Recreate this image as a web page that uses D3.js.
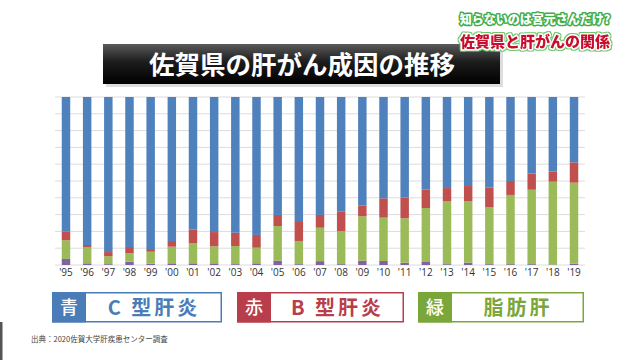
<!DOCTYPE html>
<html><head><meta charset="utf-8">
<script src="https://cdn.jsdelivr.net/npm/d3@7"></script>
<style>html,body{margin:0;padding:0;background:#fff;}svg{display:block;}</style>
</head><body>
<script>
const years = ["'95","'96","'97","'98","'99","'00","'01","'02","'03","'04","'05","'06","'07","'08","'09","'10","'11","'12","'13","'14","'15","'16","'17","'18","'19"];
const other  = [3.6,1.0,0.5,2.0,0.8,1.0,1.0,1.0,0.5,1.0,2.6,0.5,2.3,0.5,2.6,2.4,1.4,1.8,0.5,1.4,0.5,0.5,0.5,0.3,0.8];
const fatty  = [11.1,9.5,4.7,5.0,7.1,9.9,12.1,10.1,10.8,9.3,20.6,13.8,19.9,19.7,26.4,25.8,26.4,32.1,37.6,36.7,33.8,41.2,44.3,49.3,48.2];
const hepB   = [5.1,1.4,2.5,3.7,1.6,3.4,8.1,8.5,7.9,7.6,6.6,11.3,7.6,11.5,6.3,11.5,12.3,11.1,7.7,8.9,11.9,8.3,9.6,6.0,12.1];
const hepC   = years.map((y,i)=>+(100-other[i]-fatty[i]-hepB[i]).toFixed(1));
const yTicks = [0,10,20,30,40,50,60,70,80,90,100];
const title = "佐賀県の肝がん成因の推移";
const caption1 = "知らないのは宮元さんだけ?";
const caption2 = "佐賀県と肝がんの関係";
const legendItems = [
  {key:"青", label:"C 型肝炎"},
  {key:"赤", label:"B 型肝炎"},
  {key:"緑", label:"脂肪肝"}
];
const source = "出典：2020佐賀大学肝疾患センター調査";

const W=640,H=360;
const svg=d3.select("body").append("svg").attr("width",W).attr("height",H);
const font = "'Noto Sans CJK JP','Noto Sans',sans-serif";

const defs=svg.append("defs");
const g1=defs.append("linearGradient").attr("id","tg").attr("x1",0).attr("y1",0).attr("x2",0).attr("y2",1);
g1.append("stop").attr("offset","0%").attr("stop-color","#5a5a5a");
g1.append("stop").attr("offset","45%").attr("stop-color","#1c1c1c");
g1.append("stop").attr("offset","100%").attr("stop-color","#000");
const glow=defs.append("filter").attr("id","glow").attr("x","-10%").attr("y","-30%").attr("width","120%").attr("height","160%");
glow.append("feMorphology").attr("in","SourceAlpha").attr("operator","dilate").attr("radius",1.2).attr("result","d");
glow.append("feGaussianBlur").attr("in","d").attr("stdDeviation",0.6).attr("result","db");
glow.append("feFlood").attr("flood-color","#6cc86a");
glow.append("feComposite").attr("in2","db").attr("operator","in").attr("result","g");
const m=glow.append("feMerge");m.append("feMergeNode").attr("in","g");m.append("feMergeNode").attr("in","SourceGraphic");

// scales
const x=d3.scaleBand().domain(years).range([55.4,584.6]).paddingInner(0.6).paddingOuter(0.3);
const y=d3.scaleLinear().domain([0,100]).range([265,97]);

// gridlines
svg.append("g").selectAll("line").data(yTicks).join("line")
  .attr("x1",55).attr("x2",585).attr("y1",d=>y(d)).attr("y2",d=>y(d))
  .attr("stroke","#dcdcdc").attr("stroke-width",1);

// stacked bars
const rows=years.map((yr,i)=>({year:yr,other:other[i],fatty:fatty[i],hepB:hepB[i],hepC:hepC[i]}));
const keys=["other","fatty","hepB","hepC"];
const colors={other:"#8064a2",fatty:"#9bbb59",hepB:"#c0504d",hepC:"#4f81bd"};
const stack=d3.stack().keys(keys)(rows);
svg.append("g").selectAll("g").data(stack).join("g").attr("fill",d=>colors[d.key])
  .selectAll("rect").data(d=>d).join("rect")
  .attr("x",d=>x(d.data.year)).attr("width",x.bandwidth())
  .attr("y",d=>y(d[1])).attr("height",d=>y(d[0])-y(d[1]));

// x axis labels
const xa=svg.append("g").attr("transform","translate(0,266)")
  .call(d3.axisBottom(x).tickSize(0).tickPadding(3));
xa.select(".domain").remove();
xa.selectAll("text").attr("font-family","'Open Sans','DejaVu Sans',sans-serif").attr("font-size",10).attr("fill","#333");

// title box
svg.append("rect").attr("x",106).attr("y",47).attr("width",397).attr("height",40).attr("fill","#bbb").attr("opacity",0.5);
svg.append("rect").attr("x",103).attr("y",44).attr("width",397).attr("height",40).attr("fill","url(#tg)");
svg.append("text").attr("x",302).attr("y",74).attr("text-anchor","middle")
  .attr("font-family",font).attr("font-weight",700).attr("font-size",25.5).attr("fill","#fff").text(title);

// captions
svg.append("text").attr("x",535).attr("y",24).attr("text-anchor","middle")
  .attr("font-family",font).attr("font-weight",900).attr("font-size",12)
  .attr("fill","#fff").attr("stroke","#3fae49").attr("stroke-width",3).attr("paint-order","stroke").attr("stroke-linejoin","round")
  .text(caption1);
svg.append("text").attr("x",535).attr("y",47).attr("text-anchor","middle").attr("filter","url(#glow)")
  .attr("font-family",font).attr("font-weight",900).attr("font-size",15)
  .attr("fill","#c8102e").attr("stroke","#fff").attr("stroke-width",3).attr("paint-order","stroke").attr("stroke-linejoin","round")
  .text(caption2);

// legend
const legendPos=[{x:52,w:170,c:"#4a7cb8"},{x:237,w:167,c:"#b83e4b"},{x:418,w:166,c:"#7ba73a"}];
const lg=svg.append("g").selectAll("g").data(legendItems).join("g")
  .attr("transform",(d,i)=>`translate(${legendPos[i].x},292)`);
lg.append("rect").attr("x",0.75).attr("y",0.75).attr("width",(d,i)=>legendPos[i].w-1.5).attr("height",29)
  .attr("fill","#fff").attr("stroke",(d,i)=>legendPos[i].c).attr("stroke-width",1.5);
lg.append("rect").attr("x",0).attr("y",0).attr("width",34).attr("height",30.5).attr("fill",(d,i)=>legendPos[i].c);
lg.append("text").attr("x",17).attr("y",22).attr("text-anchor","middle")
  .attr("font-family",font).attr("font-weight",500).attr("font-size",18).attr("fill","#fff").text(d=>d.key);
lg.append("text").attr("x",(d,i)=>34+(legendPos[i].w-34)/2).attr("y",23).attr("text-anchor","middle")
  .attr("font-family",font).attr("font-weight",700).attr("font-size",20).attr("letter-spacing",3)
  .attr("fill",(d,i)=>legendPos[i].c).text(d=>d.label);

// source
svg.append("text").attr("x",31).attr("y",342).attr("font-family",font).attr("font-size",7.5).attr("fill","#444").text(source);
// left edge strip
svg.append("rect").attr("x",0).attr("y",322).attr("width",2.5).attr("height",38).attr("fill","#555");
</script>
</body></html>
